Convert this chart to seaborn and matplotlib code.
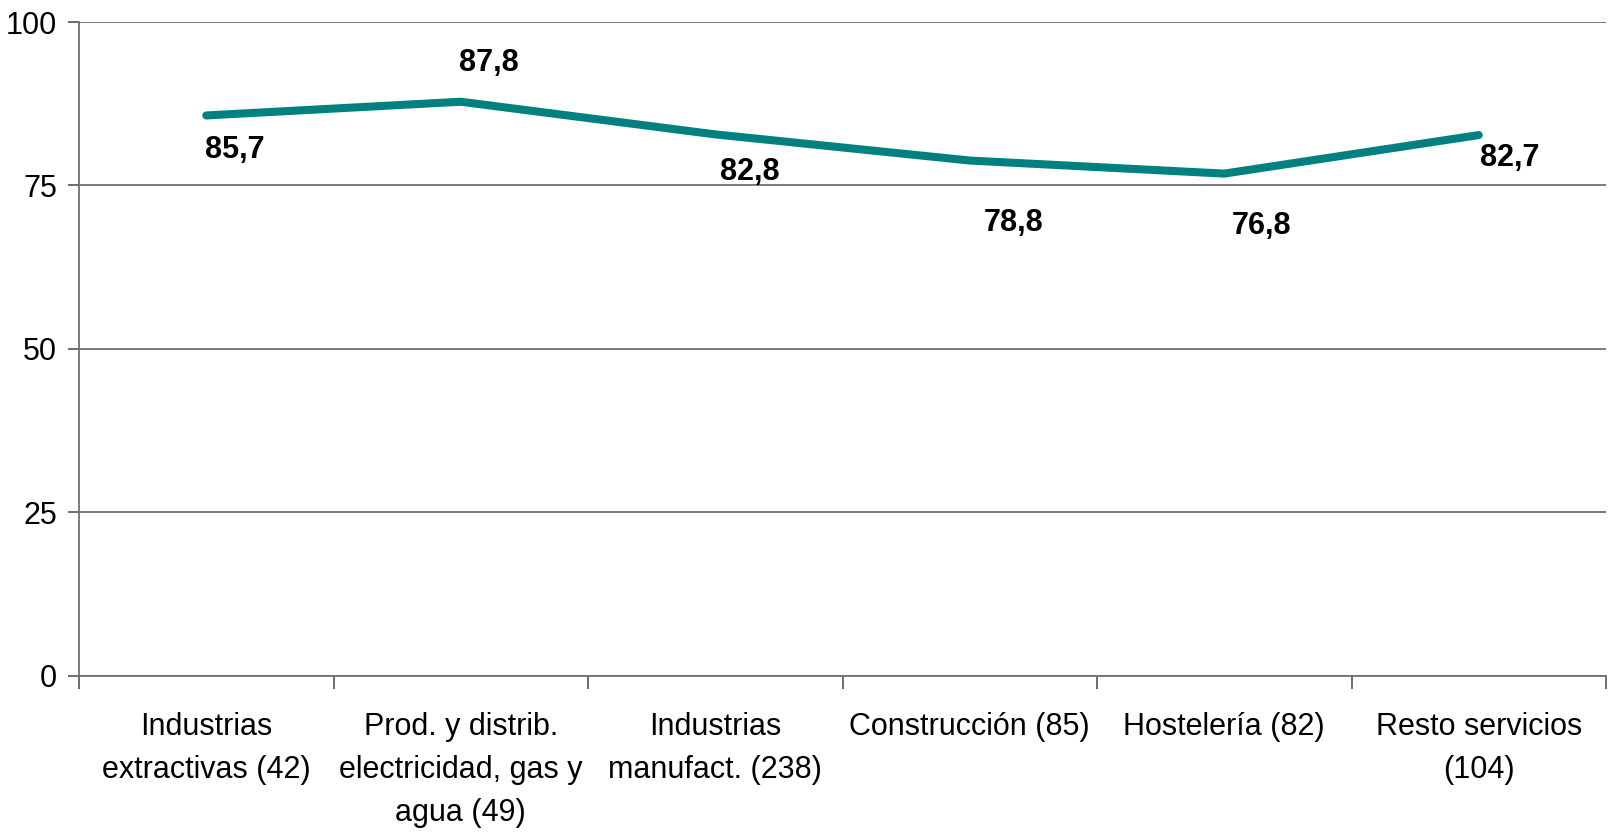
import matplotlib
matplotlib.use("Agg")
import matplotlib.pyplot as plt
import seaborn as sns
import pandas as pd
import numpy as np

categories = [
    "Industrias\nextractivas (42)",
    "Prod. y distrib.\nelectricidad, gas y\nagua (49)",
    "Industrias\nmanufact. (238)",
    "Construcción (85)",
    "Hostelería (82)",
    "Resto servicios\n(104)",
]
values = [85.7, 87.8, 82.8, 78.8, 76.8, 82.7]
value_labels = ["85,7", "87,8", "82,8", "78,8", "76,8", "82,7"]
y_ticks = [0, 25, 50, 75, 100]

# label offsets in pixels (dx, dy)
label_offsets = [(29, -35), (28, 39), (35, -38), (44, -62), (37, -52), (31, -23)]

sns.set_theme(style="white")
plt.rcParams["font.family"] = ["Liberation Sans", "DejaVu Sans"]
plt.rcParams["text.color"] = "black"

df = pd.DataFrame({"x": np.arange(len(categories)), "y": values})

fig = plt.figure(figsize=(16.14, 8.34), dpi=100)
ax = fig.add_axes([79 / 1614, 1 - 675.5 / 834, (1606 - 79) / 1614, (675.5 - 22) / 834])

sns.lineplot(data=df, x="x", y="y", ax=ax, color="#008080", linewidth=5.8,
             solid_capstyle="round", solid_joinstyle="round", zorder=3)

for i, (v, lab) in enumerate(zip(values, value_labels)):
    dx, dy = label_offsets[i]
    ax.annotate(lab, (i, v), xytext=(dx, dy), textcoords="offset pixels",
                ha="center", va="center", fontsize=22, fontweight="bold",
                color="black", zorder=4)

ax.set_xlim(-0.5, len(categories) - 0.5)
ax.set_ylim(0, 100)
ax.set_yticks(y_ticks)
ax.set_yticklabels([str(t) for t in y_ticks])
ax.set_xticks(range(len(categories)))
ax.set_xticklabels(categories, linespacing=1.58)
ax.set_xticks(np.arange(-0.5, len(categories), 1.0), minor=True)

ax.tick_params(axis="x", which="major", length=0, pad=26, labelsize=22, labelcolor="black")
ax.tick_params(axis="x", which="minor", length=9, width=1.2, color="#555555", direction="out", bottom=True)
ax.tick_params(axis="y", which="major", length=8, width=1.2, color="#555555", direction="out",
               pad=8, labelsize=22, left=True, labelcolor="black")

ax.yaxis.grid(True, color="#6f6f6f", linewidth=1.3)
ax.xaxis.grid(False)
ax.set_axisbelow(True)

for s in ["top", "right"]:
    ax.spines[s].set_visible(False)
for s in ["left", "bottom"]:
    ax.spines[s].set_color("#6f6f6f")
    ax.spines[s].set_linewidth(1.3)

ax.set_xlabel("")
ax.set_ylabel("")

fig.savefig("out.png", dpi=100, facecolor="white")
